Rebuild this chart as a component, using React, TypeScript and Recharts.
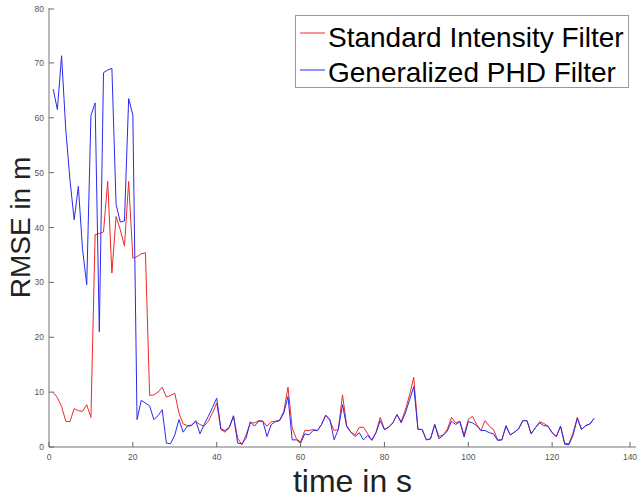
import React from "react";
import { Line, LineChart, XAxis, YAxis } from "recharts";

// RMSE per time step (s = 1..130)
const standardFilter = [
  10.0, 9.0, 7.4, 4.7, 4.6, 7.0, 6.6, 6.5, 7.7, 5.4,
  38.7, 38.9, 39.2, 48.4, 31.7, 42.0, 39.6, 36.6, 48.4, 34.4,
  34.7, 35.2, 35.4, 9.4, 9.5, 10.0, 10.9, 9.1, 9.4, 9.8,
  6.2, 4.2, 3.9, 4.0, 4.6, 4.1, 3.8, 4.7, 6.2, 8.0,
  3.2, 2.7, 3.5, 5.6, 1.6, 0.4, 2.2, 4.4, 4.4, 4.8,
  4.7, 3.8, 4.6, 4.7, 4.9, 6.5, 10.9, 3.5, 1.5, 0.9,
  3.0, 3.0, 3.2, 3.0, 4.1, 5.8, 4.8, 3.0, 3.2, 9.5,
  3.9, 2.7, 2.2, 3.6, 3.6, 2.4, 1.3, 2.7, 5.4, 3.2,
  3.6, 4.4, 5.9, 4.6, 6.8, 9.5, 12.7, 3.2, 3.2, 1.3,
  1.5, 4.1, 1.9, 2.2, 3.2, 5.4, 4.4, 4.7, 2.2, 5.0,
  5.6, 4.1, 3.0, 4.8, 3.8, 3.2, 1.3, 1.3, 3.8, 2.2,
  2.7, 3.3, 4.8, 4.8, 2.4, 3.5, 4.6, 4.3, 3.8, 2.6,
  1.9, 3.8, 0.7, 0.6, 2.6, 5.4, 3.2, 3.9, 4.2, 5.2,
];

const generalizedPhd = [
  65.2, 61.5, 71.3, 57.8, 48.7, 41.4, 47.5, 36.0, 29.6, 60.4,
  62.7, 21.0, 68.2, 68.7, 69.0, 44.2, 41.0, 41.2, 63.5, 60.5,
  5.0, 8.5, 8.0, 7.5, 5.0, 5.7, 6.8, 0.7, 0.6, 2.2,
  5.0, 2.7, 3.8, 3.9, 4.8, 2.4, 4.1, 5.6, 7.2, 8.9,
  3.3, 3.0, 3.6, 5.7, 0.7, 0.6, 1.6, 4.6, 3.8, 4.7,
  4.7, 1.9, 4.1, 4.6, 4.8, 6.2, 9.2, 1.3, 1.3, 0.7,
  2.4, 2.2, 3.0, 3.0, 4.1, 5.8, 5.0, 1.3, 3.2, 7.7,
  3.7, 2.7, 1.9, 2.6, 1.3, 2.1, 1.2, 2.6, 4.8, 3.2,
  3.6, 4.4, 5.9, 4.4, 6.2, 8.6, 11.0, 3.2, 3.2, 1.3,
  1.5, 4.1, 1.5, 2.1, 2.9, 4.7, 4.1, 4.6, 1.8, 4.6,
  4.4, 3.9, 3.0, 3.0, 2.6, 2.4, 1.2, 1.3, 3.9, 2.2,
  2.7, 3.3, 4.8, 4.8, 2.4, 3.5, 4.4, 3.9, 3.8, 2.6,
  1.9, 3.8, 0.5, 0.4, 2.2, 5.2, 3.2, 3.9, 4.2, 5.2,
];

const xTicks = [0, 20, 40, 60, 80, 100, 120, 140];
const yTicks = [0, 10, 20, 30, 40, 50, 60, 70, 80];

const seriesNames = ["Standard Intensity Filter", "Generalized PHD Filter"];
const seriesColors = ["#ee2a2a", "#2a2aee"];

const data = standardFilter.map((value, i) => ({
  t: i + 1,
  standard: value,
  gphd: generalizedPhd[i],
}));

const FONT = "'Liberation Sans', Arial, Helvetica, sans-serif";
const AXIS_GREY = "#a2a2a2";
const TICK_TEXT = "#555";

function XTick({ x, y, payload }: any) {
  return (
    <g>
      <line x1={x} x2={x} y1={y} y2={y - 5} stroke="#666" strokeWidth={1} />
      <text x={x} y={y + 13} textAnchor="middle" fontSize={8.5} fill={TICK_TEXT} fontFamily={FONT}>
        {payload.value}
      </text>
    </g>
  );
}

function YTick({ x, y, payload }: any) {
  return (
    <g>
      <line x1={x} x2={x + 5} y1={y} y2={y} stroke="#666" strokeWidth={1} />
      <text x={x - 5} y={y + 3} textAnchor="end" fontSize={8.5} fill={TICK_TEXT} fontFamily={FONT}>
        {payload.value}
      </text>
    </g>
  );
}

function XTitle({ viewBox }: any) {
  const cx = viewBox.x + viewBox.width / 2 + 10;
  return (
    <text x={cx} y={viewBox.y + 45} textAnchor="middle" fontSize={32} fill="#222" fontFamily={FONT}>
      time in s
    </text>
  );
}

function YTitle({ viewBox }: any) {
  const bx = viewBox.x + 30;
  const cy = viewBox.y + viewBox.height / 2;
  return (
    <text
      x={bx}
      y={cy}
      transform={`rotate(-90 ${bx} ${cy})`}
      textAnchor="middle"
      fontSize={28}
      fill="#222"
      fontFamily={FONT}
    >
      RMSE in m
    </text>
  );
}

function LegendBox() {
  return (
    <svg width={334} height={73} style={{ display: "block" }}>
      <rect x={0.5} y={0.5} width={333} height={72} fill="#fff" stroke="#999" />
      {seriesNames.map((name, i) => (
        <g key={name}>
          <line x1={5} x2={30} y1={18 + i * 37} y2={18 + i * 37} stroke={seriesColors[i]} strokeWidth={1} />
          <text x={33} y={32 + i * 35} fontSize={28} fill="#000" fontFamily={FONT}>
            {name}
          </text>
        </g>
      ))}
    </svg>
  );
}

export default function App() {
  return (
    <div style={{ position: "absolute", left: 0, top: 0, width: 642, height: 498, background: "#fff" }}>
      <LineChart width={642} height={498} data={data} margin={{ top: 8, right: 6, left: 0, bottom: 0 }}>
        <XAxis
          dataKey="t"
          type="number"
          domain={[0, 140]}
          ticks={xTicks}
          height={51}
          tickSize={0}
          tickMargin={0}
          tick={<XTick />}
          axisLine={{ stroke: AXIS_GREY, strokeWidth: 1.5 }}
          tickLine={false}
          label={<XTitle />}
        />
        <YAxis
          type="number"
          domain={[0, 80]}
          ticks={yTicks}
          width={49}
          tickSize={0}
          tickMargin={0}
          tick={<YTick />}
          axisLine={{ stroke: AXIS_GREY, strokeWidth: 1.5 }}
          tickLine={false}
          label={<YTitle />}
        />
        <Line
          dataKey="standard"
          name={seriesNames[0]}
          stroke={seriesColors[0]}
          strokeWidth={1}
          dot={false}
          isAnimationActive={false}
        />
        <Line
          dataKey="gphd"
          name={seriesNames[1]}
          stroke={seriesColors[1]}
          strokeWidth={1}
          dot={false}
          isAnimationActive={false}
        />
      </LineChart>
      <div style={{ position: "absolute", left: 295, top: 15 }}>
        <LegendBox />
      </div>
    </div>
  );
}
